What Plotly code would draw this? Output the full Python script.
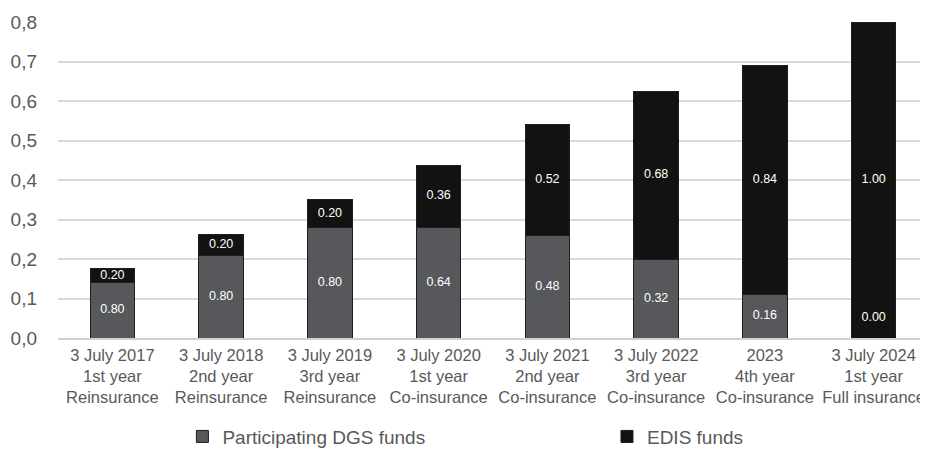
import plotly.graph_objects as go

categories = [
    "3 July 2017<br>1st year<br>Reinsurance",
    "3 July 2018<br>2nd year<br>Reinsurance",
    "3 July 2019<br>3rd year<br>Reinsurance",
    "3 July 2020<br>1st year<br>Co-insurance",
    "3 July 2021<br>2nd year<br>Co-insurance",
    "3 July 2022<br>3rd year<br>Co-insurance",
    "2023<br>4th year<br>Co-insurance",
    "3 July 2024<br>1st year<br>Full insurance",
]
dgs_values = [0.14, 0.21, 0.28, 0.28, 0.26, 0.20, 0.11, 0.0]
edis_values = [0.035, 0.0525, 0.07, 0.1575, 0.28, 0.425, 0.58, 0.80]
dgs_share_labels = ["0.80", "0.80", "0.80", "0.64", "0.48", "0.32", "0.16", "0.00"]
edis_share_labels = ["0.20", "0.20", "0.20", "0.36", "0.52", "0.68", "0.84", "1.00"]
y_ticks = [0.0, 0.1, 0.2, 0.3, 0.4, 0.5, 0.6, 0.7, 0.8]

GREY = "#56585c"
BLACK = "#121212"
FONT = "Liberation Sans, Arial, sans-serif"
TEXT_COLOR = "#595959"

fig = go.Figure()
fig.add_trace(go.Bar(
    x=categories, y=dgs_values, name="Participating DGS funds",
    marker=dict(color=GREY, line=dict(color="#1e1e1e", width=1)),
    width=0.41, hoverinfo="skip", legend="legend",
))
fig.add_trace(go.Bar(
    x=categories, y=edis_values, name="EDIS funds",
    marker=dict(color=BLACK, line=dict(color="#1e1e1e", width=1)),
    width=0.41, hoverinfo="skip", legend="legend2",
))

# value labels (shares) inside the segments
dgs_label_y = [max(v / 2, 0.052) for v in dgs_values]
edis_label_y = [d + e / 2 for d, e in zip(dgs_values, edis_values)]
fig.add_trace(go.Scatter(
    x=categories + categories,
    y=dgs_label_y + edis_label_y,
    text=dgs_share_labels + edis_share_labels,
    mode="text", textposition="middle center",
    textfont=dict(color="white", size=12.5, family=FONT),
    showlegend=False, hoverinfo="skip",
))

legend_common = dict(
    orientation="h", yanchor="middle",
    font=dict(size=19, color=TEXT_COLOR, family=FONT),
    itemwidth=30, bgcolor="rgba(0,0,0,0)",
)
# page body has an 8px default margin, so the figure is sized 8px smaller
fig.update_layout(
    barmode="stack",
    width=920, height=441,
    margin=dict(l=50, r=0, t=14, b=111, autoexpand=False),
    plot_bgcolor="white", paper_bgcolor="white",
    separators=",.",
    font=dict(family=FONT, color=TEXT_COLOR),
    legend=dict(x=0.143, xanchor="left", y=-0.312, **legend_common),
    legend2=dict(x=0.631, xanchor="left", y=-0.312, **legend_common),
    showlegend=True,
)
fig.update_xaxes(
    showgrid=False, showline=True, linecolor="#d0d0d0", linewidth=1.5,
    tickfont=dict(size=16.5, color=TEXT_COLOR), ticks="", tickangle=0,
    ticklabelstandoff=1, automargin=False,
)
fig.update_yaxes(
    range=[0, 0.8], tickvals=y_ticks, tickformat=".1f",
    showgrid=True, gridcolor="#d9d9d9", gridwidth=1.5,
    zeroline=False, showline=False,
    tickfont=dict(size=19, color=TEXT_COLOR), ticks="",
    ticklabelstandoff=20, automargin=False,
)

fig.write_html("out.html")
